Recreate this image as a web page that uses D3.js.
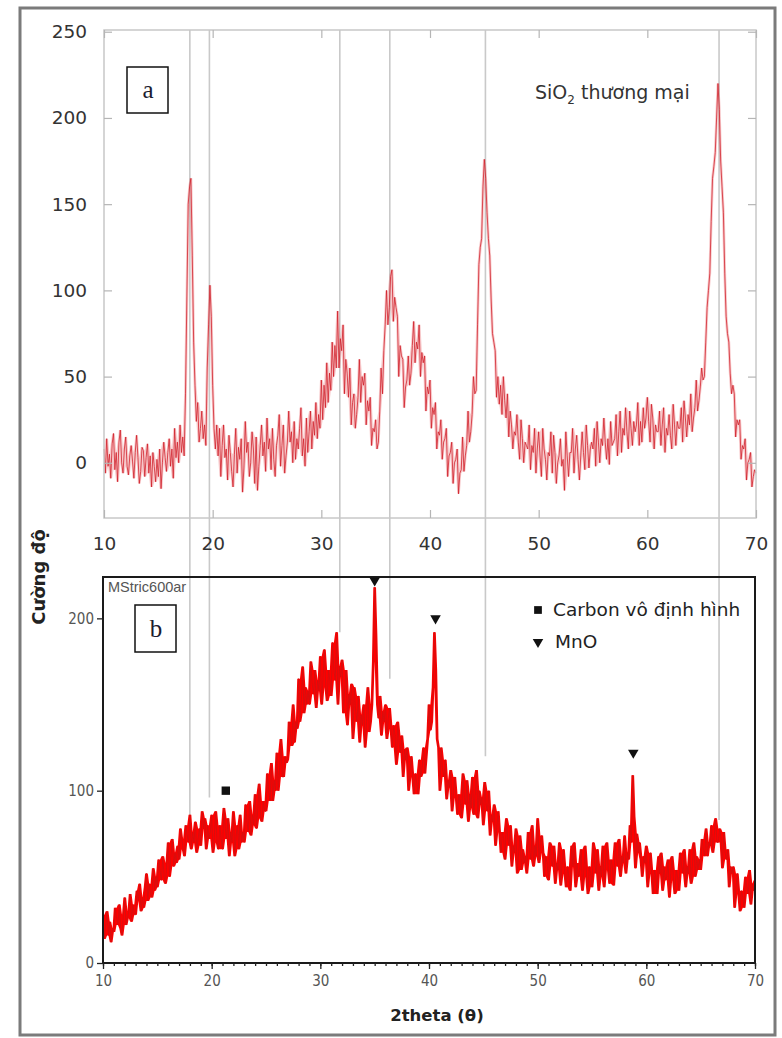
<!DOCTYPE html>
<html>
<head>
<meta charset="utf-8">
<script src="https://cdn.jsdelivr.net/npm/d3@7/dist/d3.min.js"></script>
<style>
  body { margin: 0; background: #fff; }
  svg { display: block; }
</style>
</head>
<body>
<div id="chart"></div>
<script>
// 2theta grid of both scans: one reading every 0.125 degree, 10 .. 70 (8 per row below)
var thetaStart = 10, thetaStep = 0.125;

// (a) commercial SiO2 - intensity
var siO2Intensity = [
  8, -6, 14, -2, 5, -9, 11, 17,            // 10
  -4, 6, -11, 12, 19, 0, -6, 8,
  15, -2, -7, 4, 10, 1, -9, 6,
  16, 3, -12, -5, 9, 7, -8, 3,
  11, -6, 4, -14, 6, -2, -11, 2,
  -8, 8, -15, 0, 12, 3, -5, 6,             // 15
  14, -2, 8, -9, 20, 3, 12, 0,
  22, 6, 15, 4, 40, 95, 150, 160,
  165, 120, 70, 45, 24, 35, 12, 20,
  30, 14, 22, 10, 55, 80, 103, 85,
  45, 20, 8, 22, 4, 20, -8, 10,            // 20
  22, 3, 8, -10, 16, 6, -5, -14,
  5, 20, -6, 9, 2, 14, -17, -3,
  24, 6, 12, -8, 0, 18, 8, -12,
  15, -16, -2, 10, 22, 4, 12, -5,
  26, 8, 14, -4, 20, 2, -8, 10,            // 25
  16, 28, -2, 10, 22, -6, 4, 12,
  30, 12, 18, 0, 24, 2, 14, 8,
  20, 32, 4, 14, -2, 26, 6, 18,
  30, 8, 24, 16, 35, 14, 28, 20,
  48, 25, 45, 32, 58, 35, 52, 42,          // 30
  70, 50, 68, 55, 88, 55, 72, 65,
  80, 40, 60, 52, 38, 55, 22, 35,
  40, 20, 28, 38, 60, 35, 50, 45,
  52, 22, 36, 30, 38, 10, 20, 18,
  25, 8, 12, 30, 55, 40, 65, 80,           // 35
  100, 80, 90, 108, 112, 82, 96, 90,
  85, 50, 68, 62, 60, 32, 44, 48,
  62, 45, 52, 68, 82, 58, 70, 66,
  80, 50, 64, 58, 62, 30, 44, 40,
  48, 20, 32, 28, 35, 8, 18, 16,           // 40
  25, 2, 12, 14, 20, -8, 4, 6,
  12, -12, 0, 2, 8, -18, -6, -4,
  15, -5, 4, 10, 30, 12, 18, 28,
  50, 40, 42, 80, 115, 125, 130, 160,
  176, 165, 145, 130, 120, 95, 75, 70,     // 45
  65, 38, 50, 34, 45, 28, 50, 36,
  26, 40, 15, 30, 22, 8, 18, 16,
  28, 12, 2, 25, 14, 0, 12, 10,
  8, 22, -4, 10, 6, 20, -6, 8,
  18, 4, -8, 20, 8, 2, -10, 6,             // 50
  4, 18, -6, 16, 6, -12, 0, 4,
  14, -2, 2, -16, 18, 4, -8, 6,
  6, 20, -6, 8, 16, 2, -10, 4,
  18, 6, -4, 22, 10, -3, 8, 12,
  8, 20, -2, 24, 12, 0, 14, 10,            // 55
  26, 12, 2, 14, -1, 24, 10, 12,
  14, 28, 4, 18, 30, 6, 20, 16,
  32, 18, 8, 30, 20, 10, 24, 18,
  22, 35, 10, 24, 12, 32, 20, 26,
  38, 24, 12, 34, 26, 8, 22, 18,           // 60
  18, 30, 10, 22, 32, 6, 20, 16,
  28, 16, 8, 34, 22, 10, 24, 20,
  20, 32, 12, 36, 26, 15, 28, 22,
  40, 18, 26, 32, 48, 30, 36, 44,
  55, 48, 50, 70, 90, 100, 110, 140,       // 65
  165, 172, 180, 200, 220, 205, 175, 160,
  145, 110, 85, 75, 70, 52, 40, 45,
  40, 15, 25, 22, 25, 2, 10, 8,
  14, -10, 0, 2, 6, -14, -8, -4,
  -6                                       // 70
];

// (b) MStric600ar
var mstricIntensity = [
  28, 14, 22, 30, 16, 24, 12, 20,          // 10
  18, 32, 26, 22, 34, 20, 16, 28,
  38, 22, 26, 30, 40, 24, 34, 28,
  28, 42, 36, 46, 30, 38, 32, 44,
  52, 36, 46, 40, 38, 55, 42, 50,
  44, 60, 54, 48, 62, 50, 46, 58,          // 15
  70, 50, 62, 72, 56, 64, 58, 68,
  60, 78, 72, 66, 62, 80, 74, 70,
  86, 66, 76, 70, 82, 64, 72, 78,
  68, 88, 78, 84, 66, 80, 72, 76,
  86, 64, 74, 88, 70, 66, 80, 72,          // 20
  66, 90, 78, 72, 84, 62, 76, 70,
  88, 62, 74, 80, 66, 86, 70, 76,
  70, 92, 82, 76, 94, 74, 86, 80,
  98, 78, 90, 104, 84, 82, 94, 88,
  88, 110, 100, 94, 116, 94, 106, 100,     // 25
  122, 100, 112, 130, 108, 108, 120, 116,
  118, 140, 132, 126, 150, 128, 140, 136,
  165, 140, 152, 172, 145, 160, 150, 158,
  150, 175, 162, 156, 170, 148, 164, 158,
  178, 150, 166, 182, 160, 152, 170, 164,  // 30
  155, 186, 170, 164, 192, 150, 172, 166,
  176, 145, 160, 170, 138, 156, 150, 162,
  130, 160, 146, 140, 155, 128, 144, 138,
  150, 125, 140, 160, 134, 140, 150, 175,
  218, 190, 150, 142, 155, 132, 146, 140,  // 35
  150, 130, 142, 148, 136, 125, 138, 132,
  115, 140, 128, 122, 132, 108, 124, 118,
  125, 100, 112, 120, 108, 98, 110, 104,
  98, 118, 108, 114, 125, 110, 120, 130,
  150, 135, 140, 160, 192, 170, 130, 125,  // 40
  100, 125, 112, 108, 118, 95, 106, 102,
  112, 88, 100, 108, 96, 86, 98, 94,
  84, 110, 96, 92, 106, 82, 98, 90,
  108, 86, 98, 112, 84, 100, 92, 96,
  80, 105, 92, 88, 100, 74, 86, 82,        // 45
  92, 68, 80, 88, 76, 64, 76, 72,
  60, 84, 72, 68, 80, 56, 68, 64,
  78, 52, 64, 74, 54, 66, 58, 62,
  52, 76, 66, 60, 80, 56, 68, 62,
  84, 58, 70, 74, 64, 50, 62, 58,          // 50
  48, 70, 60, 56, 68, 46, 58, 54,
  70, 45, 58, 66, 52, 44, 56, 50,
  42, 68, 56, 70, 44, 58, 50, 54,
  66, 42, 54, 68, 50, 40, 56, 52,
  44, 70, 58, 52, 66, 42, 56, 50,          // 55
  68, 44, 58, 70, 54, 46, 60, 56,
  45, 70, 60, 56, 72, 50, 62, 58,
  74, 52, 64, 60, 80, 70, 109, 85,
  55, 75, 64, 70, 60, 50, 62, 58,
  68, 44, 56, 64, 52, 40, 54, 50,          // 60
  40, 62, 52, 64, 42, 56, 48, 50,
  60, 38, 52, 62, 48, 40, 54, 50,
  42, 64, 56, 52, 66, 44, 56, 52,
  66, 46, 58, 70, 50, 62, 54, 60,
  54, 72, 66, 62, 78, 62, 70, 68,          // 65
  80, 64, 74, 84, 70, 70, 78, 72,
  55, 76, 64, 60, 66, 44, 56, 52,
  56, 32, 44, 52, 40, 30, 42, 38,
  32, 50, 44, 40, 54, 34, 46, 42,
  48                                       // 70
];

// SiO2 reference peaks carried down into (b): position and where the guide stops in (b)
var refPeaks = [17.9, 19.7, 31.7, 36.3, 45.1, 66.6];
var refPeakStop = [78, 96, 192, 165, 120, 83];

// phase markers in (b)
var mnoPeaks = [35.0, 40.6, 58.8];
var mnoLevel = [222, 200, 122];
var carbonPeak = [21.3];
var carbonLevel = [100];

var xTicksA = [10, 20, 30, 40, 50, 60, 70];
var yTicksA = [0, 50, 100, 150, 200, 250];
var xTicksB = [10, 20, 30, 40, 50, 60, 70];
var yTicksB = [0, 100, 200];

var legendLabels = ["Carbon vô định hình", "MnO"];

var W = 782, H = 1038;
var bigFont = "'DejaVu Sans', sans-serif";
var narrowFont = "'Liberation Sans Narrow', 'DejaVu Sans Condensed', sans-serif";

var svg = d3.select("#chart").append("svg")
  .attr("width", W)
  .attr("height", H);

svg.append("rect").attr("width", W).attr("height", H).attr("fill", "#fff");

var theta = function (i) { return thetaStart + i * thetaStep; };

// noise band: lowest and highest reading around each point
var band = function (v) {
  return v.map(function (d, i) {
    var w = v.slice(Math.max(0, i - 1), i + 2);
    return [d3.min(w), d3.max(w)];
  });
};

// scales
var xA = d3.scaleLinear().domain([10, 70]).range([104, 756]);
var yA = d3.scaleLinear().domain([-32, 251]).range([518, 30]);
var xB = d3.scaleLinear().domain([10, 70]).range([103, 755]);
var yB = d3.scaleLinear().domain([0, 224]).range([963, 577]);

// outer frame
svg.append("rect")
  .attr("x", 20).attr("y", 8)
  .attr("width", 755).attr("height", 1027)
  .attr("fill", "none")
  .attr("stroke", "#7b7b7b")
  .attr("stroke-width", 3);

// guide lines through both panels
svg.append("g").selectAll("line")
  .data(refPeaks)
  .join("line")
  .attr("x1", function (d) { return xA(d); })
  .attr("x2", function (d) { return xA(d); })
  .attr("y1", yA.range()[1])
  .attr("y2", function (d, i) { return yB(refPeakStop[i]); })
  .attr("stroke", "#c9c9c9")
  .attr("stroke-width", 1.6);

/* ---------- panel a ---------- */
var gA = svg.append("g");

var lineA = d3.line()
  .x(function (d, i) { return xA(theta(i)); })
  .y(function (d) { return yA(d); });
var areaA = d3.area()
  .x(function (d, i) { return xA(theta(i)); })
  .y0(function (d) { return yA(d[0]); })
  .y1(function (d) { return yA(d[1]); });

gA.append("path")
  .datum(band(siO2Intensity))
  .attr("d", areaA)
  .attr("fill", "#e4484e")
  .attr("fill-opacity", 0.3);

gA.append("path")
  .datum(siO2Intensity)
  .attr("d", lineA)
  .attr("fill", "none")
  .attr("stroke", "#d01c26")
  .attr("stroke-opacity", 0.85)
  .attr("stroke-width", 0.9);

gA.append("rect")
  .attr("x", xA(10)).attr("y", yA(251))
  .attr("width", xA(70) - xA(10))
  .attr("height", yA(-32) - yA(251))
  .attr("fill", "none")
  .attr("stroke", "#c8c8c8")
  .attr("stroke-width", 1.5);

var axA = [
  gA.append("g").attr("transform", "translate(" + xA(10) + ",0)")
    .call(d3.axisLeft(yA).tickValues(yTicksA).tickSize(-8).tickPadding(17)),
  gA.append("g").attr("transform", "translate(0," + yA(-32) + ")")
    .call(d3.axisBottom(xA).tickValues(xTicksA).tickSize(-8).tickPadding(19)),
  gA.append("g").attr("transform", "translate(" + xA(70) + ",0)")
    .call(d3.axisRight(yA).tickValues(yTicksA).tickSize(-8).tickFormat("")),
  gA.append("g").attr("transform", "translate(0," + yA(251) + ")")
    .call(d3.axisTop(xA).tickValues(xTicksA).tickSize(-8).tickFormat(""))
];
axA.forEach(function (ax) {
  ax.select(".domain").remove();
  ax.selectAll(".tick line").attr("stroke", "#b5b5b5").attr("stroke-width", 1.2);
  ax.selectAll(".tick text")
    .attr("fill", "#333")
    .style("font-family", bigFont)
    .style("font-size", "18.5px");
});

// label box "a"
gA.append("rect")
  .attr("x", 127).attr("y", 67).attr("width", 41).attr("height", 46)
  .attr("fill", "#fff").attr("stroke", "#111").attr("stroke-width", 1.5);
gA.append("text")
  .attr("x", 148).attr("y", 98)
  .attr("text-anchor", "middle")
  .style("font-family", "'Liberation Serif', serif")
  .style("font-size", "25px")
  .attr("fill", "#1c1c30")
  .text("a");

var sio2 = gA.append("text")
  .attr("x", 535).attr("y", 99)
  .attr("fill", "#333")
  .style("font-family", bigFont)
  .style("font-size", "19px");
sio2.append("tspan").text("SiO");
sio2.append("tspan").attr("dy", 5).style("font-size", "12px").text("2");
sio2.append("tspan").attr("dy", -5).text(" thương mại");

/* ---------- panel b ---------- */
var gB = svg.append("g");

var lineB = d3.line()
  .x(function (d, i) { return xB(theta(i)); })
  .y(function (d) { return yB(d); });
var areaB = d3.area()
  .x(function (d, i) { return xB(theta(i)); })
  .y0(function (d) { return yB(d[0]); })
  .y1(function (d) { return yB(d[1]); });

gB.append("path")
  .datum(band(mstricIntensity))
  .attr("d", areaB)
  .attr("fill", "#ff0000");

gB.append("path")
  .datum(mstricIntensity)
  .attr("d", lineB)
  .attr("fill", "none")
  .attr("stroke", "#d41010")
  .attr("stroke-width", 0.9);

gB.append("rect")
  .attr("x", xB(10)).attr("y", yB(224))
  .attr("width", xB(70) - xB(10))
  .attr("height", yB(0) - yB(224))
  .attr("fill", "none")
  .attr("stroke", "#1a1a1a")
  .attr("stroke-width", 2);

var axBy = gB.append("g").attr("transform", "translate(" + xB(10) + ",0)")
  .call(d3.axisLeft(yB).tickValues(yTicksB).tickSize(6).tickPadding(3));
var axBx = gB.append("g").attr("transform", "translate(0," + yB(0) + ")")
  .call(d3.axisBottom(xB).tickValues(xTicksB).tickSize(6).tickPadding(6));
var axBminor = gB.append("g").attr("transform", "translate(0," + yB(0) + ")")
  .call(d3.axisBottom(xB).ticks(60).tickSize(3).tickFormat(""));
[axBy, axBx, axBminor].forEach(function (ax) {
  ax.select(".domain").remove();
  ax.selectAll(".tick line").attr("stroke", "#222").attr("stroke-width", 1.3);
  ax.selectAll(".tick text")
    .attr("fill", "#555")
    .style("font-family", narrowFont)
    .style("font-size", "15px");
});

gB.append("text")
  .attr("x", 108).attr("y", 592)
  .attr("fill", "#555")
  .style("font-family", "'Liberation Sans', Arial, sans-serif")
  .style("font-size", "14.5px")
  .text("MStric600ar");

// label box "b"
gB.append("rect")
  .attr("x", 135).attr("y", 605).attr("width", 41).attr("height", 47)
  .attr("fill", "#fff").attr("stroke", "#111").attr("stroke-width", 1.5);
gB.append("text")
  .attr("x", 156).attr("y", 637)
  .attr("text-anchor", "middle")
  .style("font-family", "'Liberation Serif', serif")
  .style("font-size", "25px")
  .attr("fill", "#1c1c30")
  .text("b");

var tri = d3.symbol().type(d3.symbolTriangle).size(48);
var sq = d3.symbol().type(d3.symbolSquare).size(70);

gB.append("g").selectAll("path")
  .data(mnoPeaks)
  .join("path")
  .attr("d", tri)
  .attr("transform", function (d, i) {
    return "translate(" + xB(d) + "," + yB(mnoLevel[i]) + ") rotate(180)";
  })
  .attr("fill", "#111");

gB.append("g").selectAll("path")
  .data(carbonPeak)
  .join("path")
  .attr("d", sq)
  .attr("transform", function (d, i) {
    return "translate(" + xB(d) + "," + yB(carbonLevel[i]) + ")";
  })
  .attr("fill", "#111");

// legend
var leg = gB.append("g").attr("transform", "translate(538,610)");
leg.append("path").attr("d", d3.symbol().type(d3.symbolSquare).size(60)).attr("fill", "#111");
leg.append("path").attr("d", tri).attr("transform", "translate(0,32) rotate(180)").attr("fill", "#111");
leg.selectAll("text")
  .data(legendLabels)
  .join("text")
  .attr("x", function (d, i) { return i === 0 ? 15 : 17; })
  .attr("y", function (d, i) { return i * 32; })
  .attr("dy", "0.35em")
  .attr("fill", "#222")
  .style("font-family", bigFont)
  .style("font-size", "18.5px")
  .text(function (d) { return d; });

// axis titles
svg.append("text")
  .attr("transform", "translate(45,577) rotate(-90)")
  .attr("text-anchor", "middle")
  .attr("fill", "#222")
  .style("font-family", bigFont)
  .style("font-weight", "bold")
  .style("font-size", "18px")
  .text("Cường độ");

svg.append("text")
  .attr("x", 437).attr("y", 1021)
  .attr("text-anchor", "middle")
  .attr("fill", "#222")
  .style("font-family", bigFont)
  .style("font-weight", "bold")
  .style("font-size", "16.5px")
  .text("2theta (θ)");
</script>
</body>
</html>
